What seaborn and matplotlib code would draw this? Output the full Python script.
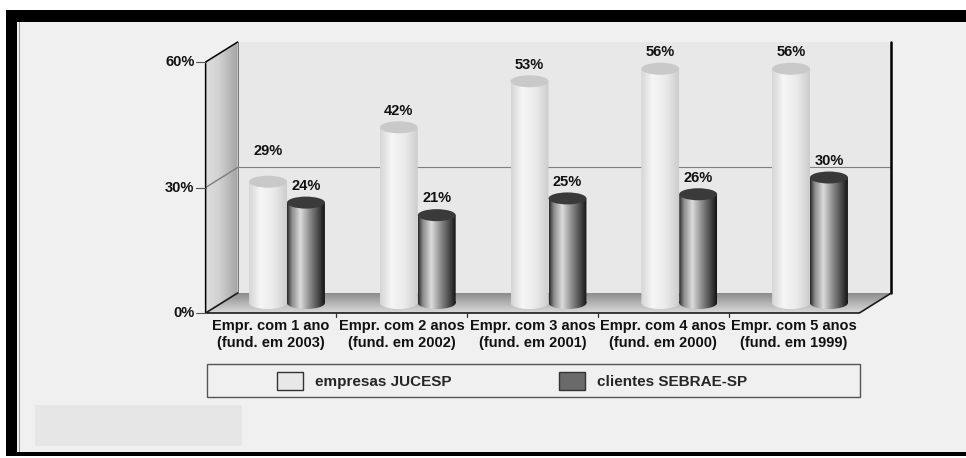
import numpy as np
import pandas as pd
import matplotlib
matplotlib.use("Agg")
import matplotlib.pyplot as plt
import seaborn as sns
from matplotlib.patches import Polygon, Rectangle, Ellipse, Patch, PathPatch
from matplotlib.path import Path
from matplotlib.transforms import Affine2D
from matplotlib.colors import to_rgb

# data
categorias = ["Empr. com 1 ano\n(fund. em 2003)", "Empr. com 2 anos\n(fund. em 2002)",
              "Empr. com 3 anos\n(fund. em 2001)", "Empr. com 4 anos\n(fund. em 2000)",
              "Empr. com 5 anos\n(fund. em 1999)"]
series = ["empresas JUCESP", "clientes SEBRAE-SP"]
jucesp = [29, 42, 53, 56, 56]
sebrae = [24, 21, 25, 26, 30]
y_ticks = [0, 30, 60]

df = pd.DataFrame({
    "categoria": categorias * 2,
    "serie": [series[0]] * len(categorias) + [series[1]] * len(categorias),
    "valor": jucesp + sebrae,
})

# pixel geometry of the reference (966x458)
W, H = 966, 458
X0_PX, STEP_PX = 287, 130.75   # first group centre, group spacing (mid depth)
Y0_PX, PX_PER = 303, 4.183     # zero line (mid depth), pixels per percent
DX, DY = 16 / STEP_PX, 10 / PX_PER   # half depth of the 3d box in data units
EH = 12 / PX_PER                     # height of cylinder caps

def fx(px):
    return px / W

def fy(py):
    return 1 - py / H

def front(x, y):
    return (x - DX, y - DY)

def back(x, y):
    return (x + DX, y + DY)

def gradient(stops, n=64, vertical=False):
    pos = [s[0] for s in stops]
    cols = np.array([to_rgb(s[1]) for s in stops])
    t = np.linspace(0, 1, n)
    g = np.stack([np.interp(t, pos, cols[:, k]) for k in range(3)], axis=1)
    return g[:, None, :] if vertical else g[None, :, :]

light_stops = [(0, "#d6d6d6"), (0.3, "#f6f6f6"), (0.65, "#ebebeb"), (1, "#cdcdcd")]
dark_stops = [(0, "#2a2a2a"), (0.12, "#8a8a8a"), (0.35, "#dcdcdc"), (0.6, "#8c8c8c"),
              (0.85, "#444444"), (1, "#151515")]
wall_stops = [(0, "#dedede"), (0.4, "#d2d2d2"), (1, "#a4a4a4")]
floor_stops = [(0, "#8c8c8c"), (0.5, "#b4b4b4"), (1, "#dadada")]   # back -> front

sns.set_theme(style="white")
plt.rcParams["font.family"] = ["Liberation Sans", "DejaVu Sans"]

fig = plt.figure(figsize=(W / 100, H / 100), dpi=100, facecolor="white")
ax = fig.add_axes([0, 0, 1, 1])

sns.barplot(data=df, x="categoria", y="valor", hue="serie", hue_order=series,
            palette=["#ececec", "#555555"], width=0.58, gap=0, errorbar=None,
            legend=False, ax=ax, zorder=3)

xl, xr = -0.5, len(categorias) - 0.5
ytop = y_ticks[-1]

# frame around the picture (figure fractions)
def frect(x0, y0, x1, y1, **kw):
    ax.add_patch(Rectangle((fx(x0), fy(y1)), fx(x1) - fx(x0), fy(y0) - fy(y1),
                           transform=ax.transAxes, **kw))

frect(17, 22, 966, 453, facecolor="#f0f0f0", edgecolor="none", zorder=0)
frect(6, 10, 966, 22, facecolor="black", edgecolor="none", zorder=0.5)
frect(6, 10, 17, 456, facecolor="black", edgecolor="none", zorder=0.5)
frect(6, 452, 966, 456, facecolor="black", edgecolor="none", zorder=0.5)
frect(19, 22, 20, 452, facecolor="#9a9a9a", edgecolor="none", zorder=0.5)
frect(35, 405, 242, 446, facecolor="#e6e6e6", edgecolor="none", zorder=0.5)
frect(207, 364, 860, 397, facecolor="#f0f0f0", edgecolor="#555555", lw=1, zorder=0.5)

# back wall
ax.add_patch(Polygon([back(xl, 0), back(xr, 0), back(xr, ytop), back(xl, ytop)],
                     facecolor="#e8e8e8", edgecolor="none", zorder=1))
for yv in y_ticks[1:-1]:
    ax.plot(*zip(front(xl, yv), back(xl, yv), back(xr, yv)), color="#808080", lw=0.8, zorder=1.6)
ax.plot(*zip(back(xr, 0), back(xr, ytop)), color="black", lw=1.8, zorder=1.6)

# left wall with gradient
wall = Polygon([front(xl, 0), back(xl, 0), back(xl, ytop), front(xl, ytop)],
               facecolor="none", edgecolor="none", transform=ax.transData)
im = ax.imshow(gradient(wall_stops), extent=[xl - DX, xl + DX, -DY, ytop + DY],
               aspect="auto", interpolation="bilinear", zorder=1.2)
im.set_clip_path(wall)
ax.plot(*zip(front(xl, 0), front(xl, ytop), back(xl, ytop)), color="black", lw=1.1, zorder=1.7)
ax.plot(*zip(back(xl, 0), back(xl, ytop)), color="#777777", lw=0.7, zorder=1.5)
for yv in y_ticks[1:-1]:
    ax.plot(*zip(front(xl, yv), back(xl, yv)), color="#808080", lw=0.8, zorder=1.6)

# floor with gradient (dark at the back, light at the front)
floor = Polygon([front(xl, 0), front(xr, 0), back(xr, 0), back(xl, 0)],
                facecolor="none", edgecolor="none", transform=ax.transData)
fl = ax.imshow(gradient(floor_stops, vertical=True), extent=[xl - DX, xr + DX, -DY, DY],
               aspect="auto", interpolation="bilinear", origin="upper", zorder=1.3)
fl.set_clip_path(floor)
ax.plot(*zip(back(xl, 0), front(xl, 0), front(xr, 0), back(xr, 0)), color="#1a1a1a", lw=1.2, zorder=1.7)
for i in range(len(categorias) - 1):
    ax.plot(*zip(front(i + 0.5, 0), front(i + 0.5, -1.0)), color="#333333", lw=0.9, zorder=1.7)

# y ticks on the front edge
for yv in y_ticks:
    ax.plot(*zip(front(xl - 0.07, yv), front(xl, yv)), color="#555555", lw=0.8, zorder=1.7)
    ax.text(*front(xl - 0.085, yv), f"{yv}%", ha="right", va="center",
            fontsize=10.5, fontweight="bold", color="#111111")

# category labels
for i, cat in enumerate(categorias):
    ax.text(i - DX, (Y0_PX - 319) / PX_PER, cat, ha="center", va="top",
            fontsize=10.5, fontweight="bold", linespacing=1.25, color="#111111")

# turn the seaborn bars into cylinders
for s, cont in enumerate(ax.containers):
    stops = light_stops if s == 0 else dark_stops
    cap = "#c9c9c9" if s == 0 else "#3a3a3a"
    for i, p in enumerate(cont):
        x0, w, h = p.get_x(), p.get_width(), p.get_height()
        xc = x0 + w / 2
        p.set_visible(False)
        rect = Path([(x0, 0), (x0 + w, 0), (x0 + w, h), (x0, h), (x0, 0)],
                    [Path.MOVETO, Path.LINETO, Path.LINETO, Path.LINETO, Path.CLOSEPOLY])
        ell = Affine2D().scale(w / 2, EH / 2).translate(xc, 0).transform_path(Path.unit_circle())
        clip = PathPatch(Path.make_compound_path(rect, ell), transform=ax.transData)
        bar = ax.imshow(gradient(stops), extent=[x0, x0 + w, -EH / 2, h], aspect="auto",
                        interpolation="bilinear", zorder=3)
        bar.set_clip_path(clip)
        ax.add_patch(Ellipse((xc, h), w, EH, facecolor=cap, edgecolor="none", zorder=4))
        other = sebrae[i] if s == 0 else jucesp[i]
        lift = 4 + (3.4 if s == 0 and abs(h - other) < 6 else 0)
        ax.text(xc, h + lift, f"{h:.0f}%", ha="center", va="center",
                fontsize=10.5, fontweight="bold", color="#111111", zorder=5)

# legend
handles = [Patch(facecolor="#e8e8e8", edgecolor="#333333", lw=1),
           Patch(facecolor="#6a6a6a", edgecolor="#333333", lw=1)]
ax.legend(handles, series, loc="center left", bbox_to_anchor=(fx(277), fy(381)),
          bbox_transform=ax.transAxes, ncol=2, frameon=False, borderpad=0,
          borderaxespad=0, handlelength=1.7, handleheight=1.4, handletextpad=0.8,
          columnspacing=7.0, prop={"weight": "bold", "size": 11})

ax.set_xlim((0 - X0_PX) / STEP_PX, (W - X0_PX) / STEP_PX)
ax.set_ylim((Y0_PX - H) / PX_PER, Y0_PX / PX_PER)
ax.set_axis_off()

fig.savefig("out.png", dpi=100, facecolor="white")
